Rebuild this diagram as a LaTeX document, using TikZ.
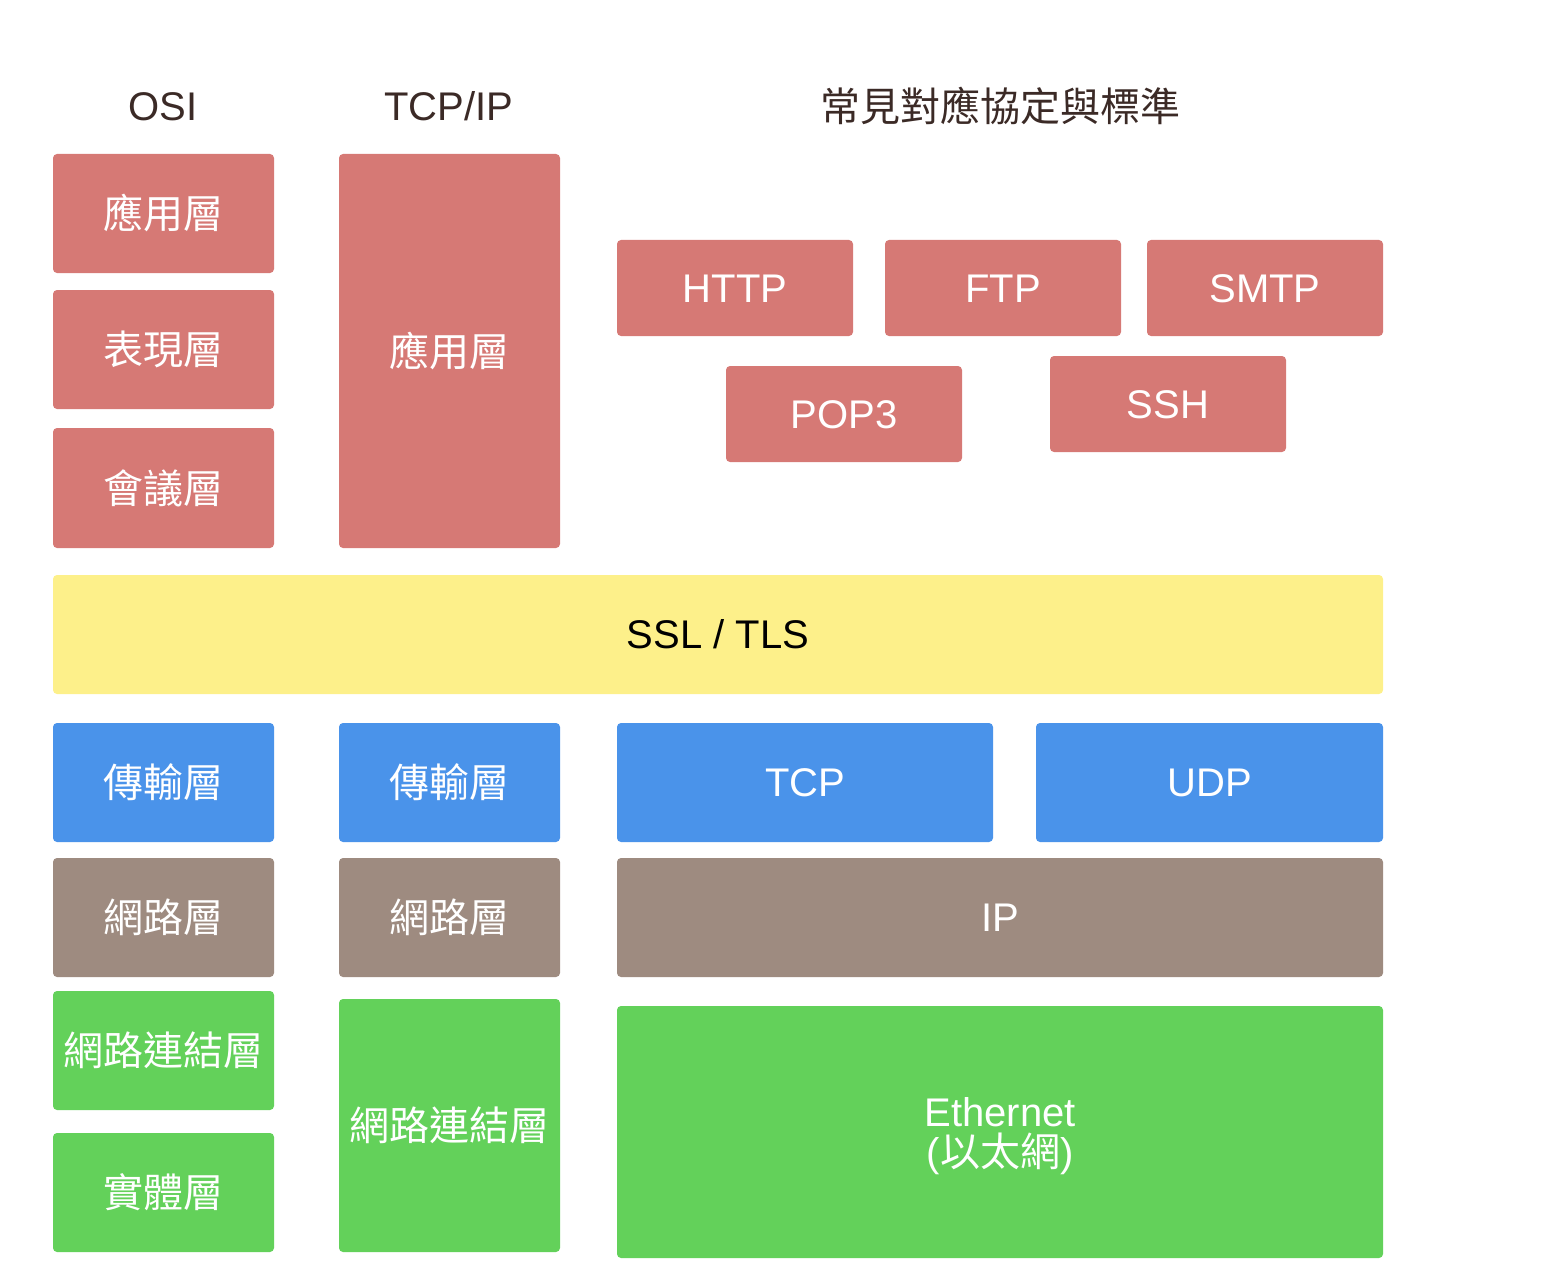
\documentclass[tikz,border=0pt]{standalone}
\usepackage{fontspec}
\setmainfont{Liberation Sans}
\newfontfamily\cjk{Noto Sans CJK TC}
\definecolor{cred}{HTML}{D67975}
\definecolor{cyel}{HTML}{FDF08A}
\definecolor{cblue}{HTML}{4A93EA}
\definecolor{cgray}{HTML}{9E8B80}
\definecolor{cgreen}{HTML}{63D15A}
\definecolor{ctitle}{HTML}{3B2A26}
\begin{document}
\begin{tikzpicture}[x=1pt,y=-1pt,
  blk/.style={inner sep=0pt, outer sep=0pt, text=white, font=\fontsize{40}{40}\selectfont},
  lat/.style={text height=28.6pt, text depth=0pt},
  han/.style={font=\fontsize{40}{40}\selectfont\cjk, text height=33.2pt, text depth=2.8pt},
  hdr/.style={text=ctitle, inner sep=0pt, font=\fontsize{40}{40}\selectfont}
]
\useasboundingbox (0,0) rectangle (1550,1276);
% headers
\node[hdr, lat] (hosi) at (163,106) {OSI};
\node[hdr, lat] (htcp) at (449,106) {TCP/IP};
\node[hdr, han] (hstd) at (1000,106) {常見對應協定與標準};
% OSI column
\fill[cred, rounded corners=4pt] (53,154) rectangle (274,273);
\node[blk,han,text=white] (o7) at (163.5,213.5) {應用層};
\fill[cred, rounded corners=4pt] (53,290) rectangle (274,409);
\node[blk,han,text=white] (o6) at (163.5,349.5) {表現層};
\fill[cred, rounded corners=4pt] (53,428) rectangle (274,548);
\node[blk,han,text=white] (o5) at (163.5,488) {會議層};
\fill[cblue, rounded corners=4pt] (53,723) rectangle (274,842);
\node[blk,han,text=white] (o4) at (163.5,782.5) {傳輸層};
\fill[cgray, rounded corners=4pt] (53,858) rectangle (274,977);
\node[blk,han,text=white] (o3) at (163.5,917.5) {網路層};
\fill[cgreen, rounded corners=4pt] (53,991) rectangle (274,1110);
\node[blk,han,text=white] (o2) at (163.5,1050.5) {網路連結層};
\fill[cgreen, rounded corners=4pt] (53,1133) rectangle (274,1252);
\node[blk,han,text=white] (o1) at (163.5,1192.5) {實體層};
% TCP/IP column
\fill[cred, rounded corners=4pt] (339,154) rectangle (560,548);
\node[blk,han,text=white] (t4) at (449.5,351) {應用層};
\fill[cblue, rounded corners=4pt] (339,723) rectangle (560,842);
\node[blk,han,text=white] (t3) at (449.5,782.5) {傳輸層};
\fill[cgray, rounded corners=4pt] (339,858) rectangle (560,977);
\node[blk,han,text=white] (t2) at (449.5,917.5) {網路層};
\fill[cgreen, rounded corners=4pt] (339,999) rectangle (560,1252);
\node[blk,han,text=white] (t1) at (449.5,1125.5) {網路連結層};
% SSL/TLS
\fill[cyel, rounded corners=4pt] (53,575) rectangle (1383,694);
\node[blk,lat,text=black] (ssl) at (718,634.5) {SSL / TLS};
% protocols
\fill[cred, rounded corners=4pt] (617,240) rectangle (853,336);
\node[blk,lat] (http) at (735,288) {HTTP};
\fill[cred, rounded corners=4pt] (885,240) rectangle (1121,336);
\node[blk,lat] (ftp) at (1003,288) {FTP};
\fill[cred, rounded corners=4pt] (1147,240) rectangle (1383,336);
\node[blk,lat] (smtp) at (1265,288) {SMTP};
\fill[cred, rounded corners=4pt] (726,366) rectangle (962,462);
\node[blk,lat] (pop) at (844,414) {POP3};
\fill[cred, rounded corners=4pt] (1050,356) rectangle (1286,452);
\node[blk,lat] (ssh) at (1168,404) {SSH};
\fill[cblue, rounded corners=4pt] (617,723) rectangle (993,842);
\node[blk,lat] (tcp) at (805,782.5) {TCP};
\fill[cblue, rounded corners=4pt] (1036,723) rectangle (1383,842);
\node[blk,lat] (udp) at (1209.5,782.5) {UDP};
\fill[cgray, rounded corners=4pt] (617,858) rectangle (1383,977);
\node[blk,lat] (ip) at (1000,917.5) {IP};
\fill[cgreen, rounded corners=4pt] (617,1006) rectangle (1383,1258);
\node[blk, align=center] (eth) at (1000,1136) {Ethernet\\({\cjk 以太網})};
\end{tikzpicture}
\end{document}
